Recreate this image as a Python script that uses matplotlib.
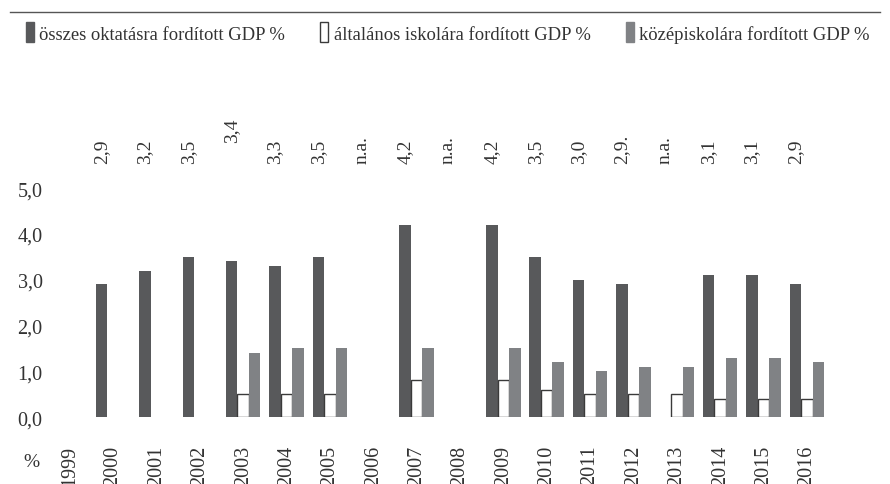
import numpy as np
import matplotlib
matplotlib.use("Agg")
import matplotlib.pyplot as plt
from matplotlib.patches import Patch
from matplotlib.lines import Line2D

plt.rcParams["font.family"] = ["Liberation Serif", "DejaVu Serif"]

years = [str(y) for y in range(1999, 2017)]
nan = np.nan
total = [nan, 2.9, 3.2, 3.5, 3.4, 3.3, 3.5, nan, 4.2, nan, 4.2, 3.5, 3.0, 2.9, nan, 3.1, 3.1, 2.9]
elementary = [nan, nan, nan, nan, 0.5, 0.5, 0.5, nan, 0.8, nan, 0.8, 0.6, 0.5, 0.5, 0.5, 0.4, 0.4, 0.4]
secondary = [nan, nan, nan, nan, 1.4, 1.5, 1.5, nan, 1.5, nan, 1.5, 1.2, 1.0, 1.1, 1.1, 1.3, 1.3, 1.2]
top_labels = ["", "2,9", "3,2", "3,5", "3,4", "3,3", "3,5", "n.a.", "4,2", "n.a.",
              "4,2", "3,5", "3,0", "2,9.", "n.a.", "3,1", "3,1", "2,9"]
series_names = ["összes oktatásra fordított GDP %",
                "általános iskolára fordított GDP %",
                "középiskolára fordított GDP %"]

DARK = "#58595b"
GRAY = "#808285"
EDGE = "#3a3a3a"
TXT = "#333333"

fig = plt.figure(figsize=(8.9, 4.85), dpi=100)
ax = fig.add_axes([0.054, 0.138, 0.877, 0.472])

x = np.arange(len(years))
w = 0.265
ax.bar(x - w, total, w, color=DARK, linewidth=0)
ax.bar(x, elementary, w, color="white", edgecolor=EDGE, linewidth=1.0)
ax.bar(x + w, secondary, w, color=GRAY, linewidth=0)

# value labels above the plot
for i, lab in enumerate(top_labels):
    if not lab:
        continue
    yy = 6.0 if i == 4 else 5.56
    ax.text(x[i] - w, yy, lab, rotation=90, ha="center", va="bottom",
            fontsize=14, color=TXT, clip_on=False)

ax.set_xlim(-0.5, len(years) - 0.5)
ax.set_ylim(0, 5)
ax.set_yticks(np.arange(0, 5.1, 1))
ax.set_yticklabels([f"{v:.1f}".replace(".", ",") for v in np.arange(0, 5.1, 1)])
ax.set_xticks(x)
ax.set_xticklabels(years, rotation=90, va="top")
ax.tick_params(axis="both", length=0, labelsize=14.5, colors=TXT)
ax.tick_params(axis="x", pad=20)
ax.tick_params(axis="y", pad=4)
for s in ax.spines.values():
    s.set_visible(False)

fig.text(0.035, 0.047, "%", fontsize=14, color=TXT, ha="center", va="center")

# top rule
fig.add_artist(Line2D([0.011, 0.989], [0.973, 0.973], color="#555555", lw=1.0))

handles = [Patch(facecolor=DARK, edgecolor=DARK),
           Patch(facecolor="white", edgecolor=EDGE),
           Patch(facecolor=GRAY, edgecolor=GRAY)]
fig.legend(handles, series_names, loc="center left", bbox_to_anchor=(0.029, 0.931), ncol=3,
           frameon=False, fontsize=13.4, handlelength=0.42, handleheight=1.25,
           handletextpad=0.3, columnspacing=1.9, labelcolor=TXT,
           borderpad=0, borderaxespad=0)

fig.savefig("out.png", dpi=100, facecolor="white")
